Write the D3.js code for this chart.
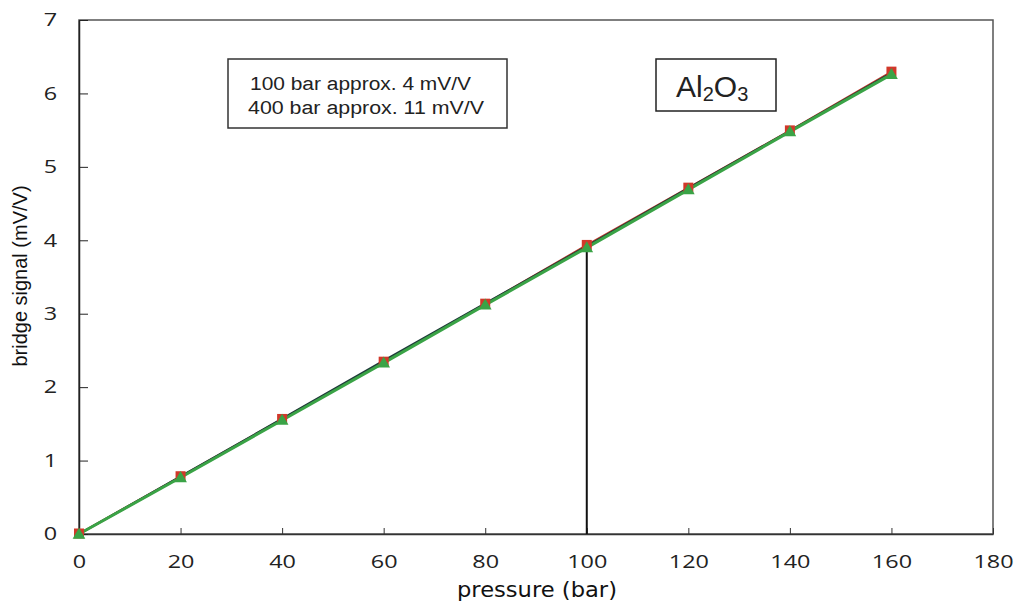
<!DOCTYPE html>
<html>
<head>
  <meta charset="UTF-8">
  <style>
    body { margin: 0; background: #fff; }
    svg { display: block; }
  </style>
</head>
<body>
<svg></svg>
<script src="https://d3js.org/d3.v7.min.js"></script>
<script>
  // data
  const pressure = [0, 20, 40, 60, 80, 100, 120, 140, 160];
  const signalRed = [0, 0.78, 1.56, 2.34, 3.13, 3.93, 4.71, 5.49, 6.29];
  const signalGreen = [0, 0.77, 1.55, 2.33, 3.12, 3.90, 4.69, 5.48, 6.26];
  const signalDark = [0, 0.785, 1.57, 2.36, 3.14, 3.92, 4.71, 5.49, 6.28];
  const xTicks = [0, 20, 40, 60, 80, 100, 120, 140, 160, 180];
  const yTicks = [0, 1, 2, 3, 4, 5, 6, 7];
  const markerAt = 100, markerTop = 3.84;

  let width = 1015, height = 601;
  let svg = d3.select("svg").attr("width", width).attr("height", height);

  let x = d3.scaleLinear().domain([0, 180]).range([79, 993]);
  let y = d3.scaleLinear().domain([0, 7]).range([534, 20]);

  // the tick labels in the picture are stretched sideways
  function stretch(sel, k) {
    sel.each(function () {
      let w = this.getComputedTextLength();
      d3.select(this).attr("textLength", w * k).attr("lengthAdjust", "spacingAndGlyphs");
    });
  }

  // frame
  svg.append("rect")
    .attr("x", x(0)).attr("y", y(7))
    .attr("width", x(180) - x(0)).attr("height", y(0) - y(7))
    .attr("fill", "none").attr("stroke", "#555").attr("stroke-width", 1.5);

  // x axis, ticks pointing inside
  let xAxis = svg.append("g")
    .attr("transform", "translate(0," + y(0) + ")")
    .call(d3.axisBottom(x).tickValues(xTicks).tickFormat(d3.format("d"))
      .tickSizeInner(-6).tickSizeOuter(0).tickPadding(21));
  xAxis.select(".domain").attr("stroke", "#333").attr("stroke-width", 1.5);
  xAxis.selectAll(".tick line").attr("stroke", "#333");
  xAxis.selectAll(".tick text").attr("font-family", "'Open Sans', sans-serif")
    .attr("font-size", 18).attr("fill", "#222").call(stretch, 1.3);

  let yAxis = svg.append("g")
    .attr("transform", "translate(" + x(0) + ",0)")
    .call(d3.axisLeft(y).tickValues(yTicks).tickFormat(d3.format("d"))
      .tickSizeInner(-9).tickSizeOuter(0).tickPadding(22));
  yAxis.select(".domain").attr("stroke", "#222").attr("stroke-width", 1.5);
  yAxis.selectAll(".tick line").attr("stroke", "#222");
  yAxis.selectAll(".tick text").attr("font-family", "'Open Sans', sans-serif")
    .attr("font-size", 18).attr("fill", "#222").call(stretch, 1.3);

  // vertical marker at 100 bar
  svg.append("line")
    .attr("x1", x(markerAt)).attr("x2", x(markerAt))
    .attr("y1", y(markerTop)).attr("y2", y(0))
    .attr("stroke", "#111").attr("stroke-width", 2);

  let line = d3.line().x((d, i) => x(pressure[i])).y(d => y(d));

  svg.append("path").datum(signalRed).attr("d", line)
    .attr("fill", "none").attr("stroke", "#c0392b").attr("stroke-width", 2.5);
  svg.append("path").datum(signalDark).attr("d", line)
    .attr("fill", "none").attr("stroke", "#1e3a3a").attr("stroke-width", 2);
  svg.append("path").datum(signalGreen).attr("d", line)
    .attr("fill", "none").attr("stroke", "#3aa346").attr("stroke-width", 3);

  svg.append("g").selectAll("rect").data(signalRed).enter().append("rect")
    .attr("x", (d, i) => x(pressure[i]) - 5).attr("y", d => y(d) - 5.5)
    .attr("width", 10).attr("height", 10).attr("fill", "#d1382a");

  let tri = d3.symbol().type(d3.symbolTriangle).size(70);
  svg.append("g").selectAll("path").data(signalGreen).enter().append("path")
    .attr("d", tri)
    .attr("transform", (d, i) => "translate(" + x(pressure[i]) + "," + (y(d) + 1) + ")")
    .attr("fill", "#3aa346");

  // annotation boxes
  svg.append("rect").attr("x", 228).attr("y", 59).attr("width", 279).attr("height", 69)
    .attr("fill", "#fff").attr("stroke", "#333").attr("stroke-width", 1.5);
  let note = svg.append("text").attr("font-family", "Arial, 'Liberation Sans', sans-serif")
    .attr("font-size", 18).attr("fill", "#222");
  note.append("tspan").attr("x", 250).attr("y", 90)
    .attr("textLength", 221).attr("lengthAdjust", "spacingAndGlyphs").text("100 bar approx. 4 mV/V");
  note.append("tspan").attr("x", 248).attr("y", 114)
    .attr("textLength", 236).attr("lengthAdjust", "spacingAndGlyphs").text("400 bar approx. 11 mV/V");

  svg.append("rect").attr("x", 656).attr("y", 59).attr("width", 120).attr("height", 52)
    .attr("fill", "#fff").attr("stroke", "#222").attr("stroke-width", 1.5);
  let chem = svg.append("text").attr("x", 676).attr("y", 97)
    .attr("font-family", "Arial, 'Liberation Sans', sans-serif").attr("font-size", 30).attr("fill", "#222");
  chem.append("tspan").text("Al");
  chem.append("tspan").attr("font-size", 20).attr("dy", 4).text("2");
  chem.append("tspan").attr("dy", -4).text("O");
  chem.append("tspan").attr("font-size", 20).attr("dy", 4).text("3");

  // axis titles
  svg.append("text").attr("x", 537).attr("y", 597).attr("text-anchor", "middle")
    .attr("font-family", "'DejaVu Sans', Verdana, sans-serif").attr("font-size", 21).attr("fill", "#111")
    .attr("textLength", 160).attr("lengthAdjust", "spacingAndGlyphs")
    .text("pressure (bar)");
  svg.append("text").attr("transform", "translate(27,276) rotate(-90)").attr("text-anchor", "middle")
    .attr("font-family", "Arial, 'Liberation Sans', sans-serif").attr("font-size", 20).attr("fill", "#111")
    .text("bridge signal (mV/V)");
</script>
</body>
</html>
